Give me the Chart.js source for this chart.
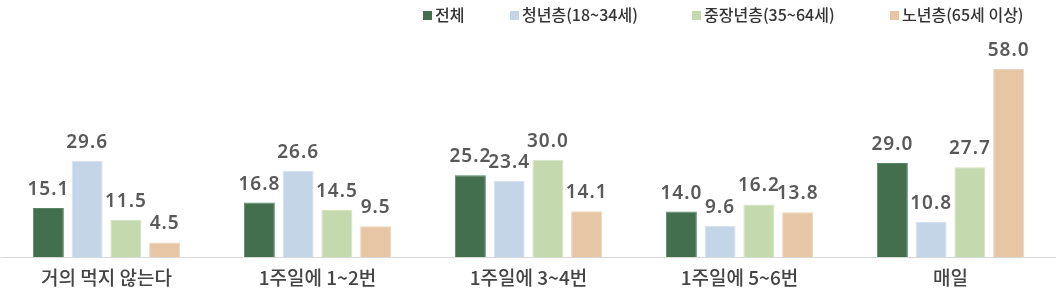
<!DOCTYPE html>
<html>
<head>
<meta charset="utf-8">
<script src="https://cdn.jsdelivr.net/npm/chart.js@4"></script>
<style>
  html, body { margin: 0; padding: 0; background: #fff; }
  #wrap { position: relative; width: 1056px; height: 290px; }
  #legend { position: absolute; top: 3px; left: 423px; height: 22px; white-space: nowrap;
            font-family: "Noto Sans CJK KR", "Noto Sans", sans-serif; font-size: 16px; font-weight: 500; color: #333; }
  #legend span.item { position: absolute; top: 0; line-height: 22px; }
  #legend i { display: inline-block; width: 9px; height: 9px; margin-right: 3px; vertical-align: 1px; }
</style>
</head>
<body>
<div id="wrap">
  <canvas id="chart"></canvas>
  <div id="legend"></div>
</div>
<script>
var categories = ['거의 먹지 않는다', '1주일에 1~2번', '1주일에 3~4번', '1주일에 5~6번', '매일'];
var seriesNames = ['전체', '청년층(18~34세)', '중장년층(35~64세)', '노년층(65세 이상)'];
var total = [15.1, 16.8, 25.2, 14.0, 29.0];
var youth = [29.6, 26.6, 23.4, 9.6, 10.8];
var middle = [11.5, 14.5, 30.0, 16.2, 27.7];
var senior = [4.5, 9.5, 14.1, 13.8, 58.0];

var colors = ['#436f4e', '#c5d5e8', '#c5d9ae', '#e6c6a4'];
var borders = ['#5a8565', '#d6e2f0', '#d4e3c2', '#eed5bb'];
var legendX = [0, 87, 269, 467]; // offsets from legend left

// legend built as html
var legend = document.getElementById('legend');
seriesNames.forEach(function(name, i) {
    var s = document.createElement('span');
    s.className = 'item';
    s.style.left = legendX[i] + 'px';
    s.innerHTML = '<i style="background:' + colors[i] + '"></i>' + name;
    legend.appendChild(s);
});

// draws the value above each bar
var valueLabels = {
    id: 'valueLabels',
    afterDatasetsDraw: function(chart) {
        var ctx = chart.ctx;
        ctx.save();
        ctx.font = '600 19px "Noto Sans", sans-serif';
        ctx.letterSpacing = '1px';
        ctx.fillStyle = '#595959';
        ctx.textAlign = 'center';
        ctx.textBaseline = 'alphabetic';
        chart.data.datasets.forEach(function(ds, i) {
            var meta = chart.getDatasetMeta(i);
            meta.data.forEach(function(bar, j) {
                ctx.fillText(ds.data[j].toFixed(1), bar.x, bar.y - 13);
            });
        });
        ctx.restore();
    }
};

var allData = [total, youth, middle, senior];

new Chart(document.getElementById('chart').getContext('2d'), {
    type: 'bar',
    data: {
        labels: categories,
        datasets: allData.map(function(d, i) {
            return {
                label: seriesNames[i],
                data: d,
                backgroundColor: colors[i],
                borderColor: borders[i],
                borderWidth: 1,
                barPercentage: 0.8,
                categoryPercentage: 0.735
            };
        })
    },
    options: {
        responsive: true,
        maintainAspectRatio: false,
        animation: false,
        layout: { padding: { left: 1, right: 0, top: 30, bottom: 0 } },
        plugins: {
            legend: { display: false },
            tooltip: { enabled: false }
        },
        scales: {
            x: {
                grid: { display: false, drawTicks: false },
                border: { color: '#d9d9d9', width: 1 },
                ticks: {
                    color: '#444',
                    padding: 9,
                    font: { family: '"Noto Sans CJK KR", "Noto Sans", sans-serif', size: 19, weight: '500' }
                },
                afterFit: function(scale) { scale.height = 33; }
            },
            y: {
                display: false,
                min: 0,
                max: 70
            }
        }
    },
    plugins: [valueLabels]
});
</script>
</body>
</html>
